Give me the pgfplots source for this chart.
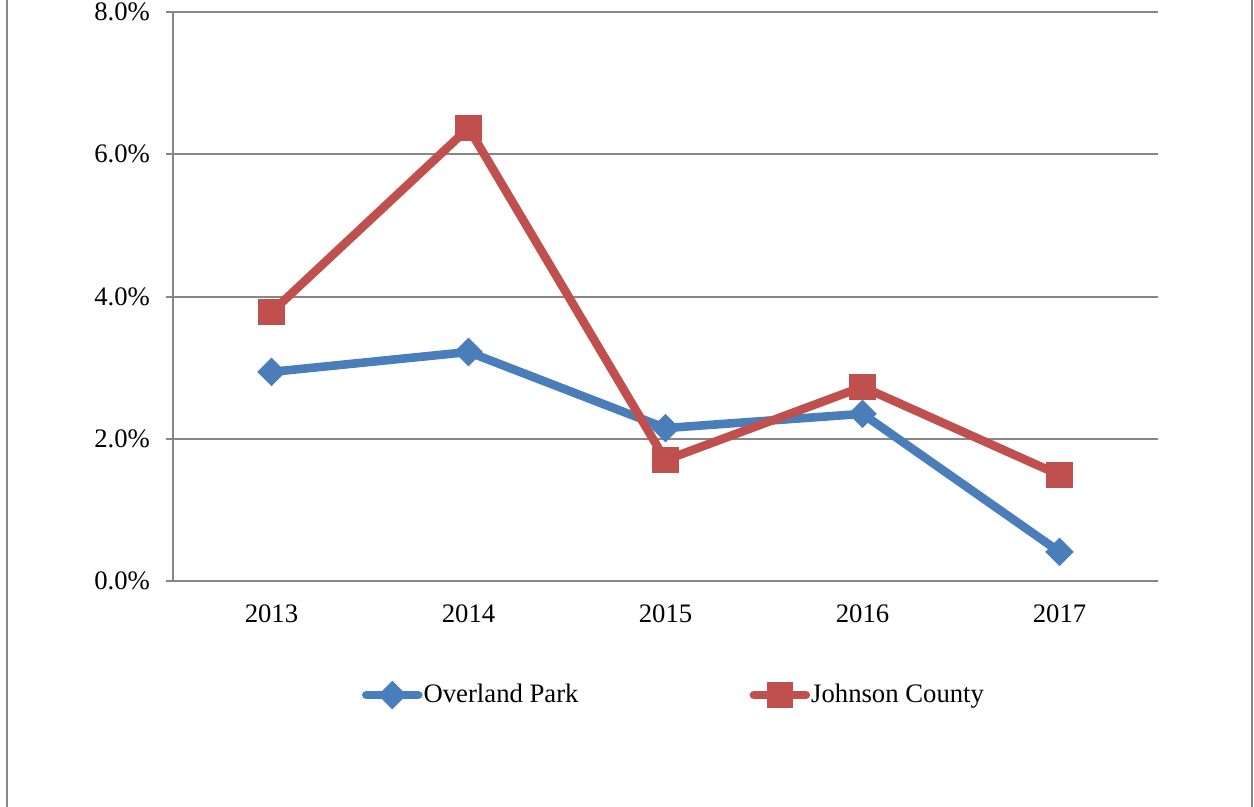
\documentclass[border=0pt]{standalone}
\usepackage{fontspec}
\setmainfont{Liberation Serif}
\usepackage{pgfplots}
\pgfplotsset{compat=1.18}
\definecolor{opblue}{HTML}{4A7EBB}
\definecolor{jcred}{HTML}{C0504D}
\definecolor{gridgray}{HTML}{878787}
\begin{document}
\begin{tikzpicture}
\path[use as bounding box] (-86.5bp,-113bp) rectangle (540.5bp,290.5bp);
\begin{axis}[
  scale only axis,
  width=492.5bp, height=284.5bp,
  xmin=0.5, xmax=5.5, ymin=0, ymax=8,
  axis x line*=bottom, axis y line*=left,
  axis line style={gridgray, line width=1bp, -},
  xtick={1,2,3,4,5},
  xticklabels={2013,2014,2015,2016,2017},
  x tick style={draw=none},
  extra x ticks={0.5,1.5,2.5,3.5,4.5,5.5},
  extra x tick labels={},
  extra x tick style={tick style={draw=gridgray, line width=1bp}, major tick length=4bp, tick align=outside, grid=none},
  ytick={0,2,4,6,8},
  yticklabels={0.0\%,2.0\%,4.0\%,6.0\%,8.0\%},
  ymajorgrids,
  grid style={gridgray, line width=1bp},
  y tick style={gridgray, line width=1bp},
  tick align=outside,
  major tick length=3.5bp,
  ticklabel style={font=\fontsize{13.4}{15}\selectfont, text=black},
  xticklabel style={yshift=-5bp},
  yticklabel style={xshift=-4.5bp},
  legend columns=2,
  legend style={draw=none, fill=none, at={(0.1919,-0.2005)}, anchor=west,
    inner sep=0pt, outer sep=0pt,
    font=\fontsize{13.4}{15}\selectfont,
    nodes={inner sep=0.5bp},
    /tikz/every even column/.append style={column sep=85bp}},
  legend image code/.code={\draw[#1, line cap=round, mark repeat=2, mark phase=2] plot coordinates {(1.5bp,0bp) (14.5bp,0bp) (27.5bp,0bp)};},
  clip=false,
]
\addplot[opblue, line width=4.3bp, mark=diamond*, mark size=6.8bp,
  mark options={xscale=1.33, line width=0.5bp, fill=opblue, draw=opblue}]
  coordinates {(1,2.94) (2,3.22) (3,2.15) (4,2.35) (5,0.41)};
\addlegendentry{Overland Park}
\addplot[jcred, line width=4.3bp, mark=square*, mark size=6.3bp,
  mark options={line width=0.5bp, fill=jcred, draw=jcred}]
  coordinates {(1,3.78) (2,6.37) (3,1.70) (4,2.73) (5,1.49)};
\addlegendentry{Johnson County}
\end{axis}
\draw[gridgray, line width=1.2bp] (-83bp,-113bp) -- (-83bp,290.5bp);
\draw[gridgray, line width=1.2bp] (539.5bp,-113bp) -- (539.5bp,290.5bp);
\end{tikzpicture}
\end{document}
